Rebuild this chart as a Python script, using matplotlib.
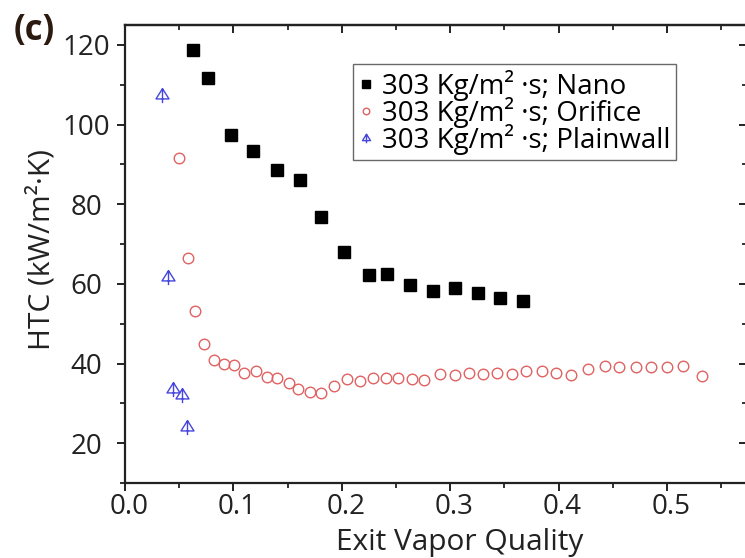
import matplotlib
matplotlib.use("Agg")
import matplotlib.pyplot as plt
import matplotlib.transforms as mtransforms
from matplotlib.path import Path
from matplotlib.ticker import MultipleLocator, NullFormatter

plt.rcParams['font.family'] = ['Open Sans', 'DejaVu Sans']

nano_x = [0.063, 0.077, 0.098, 0.118, 0.140, 0.161, 0.181, 0.202, 0.225, 0.242,
          0.263, 0.284, 0.304, 0.326, 0.346, 0.367]
nano_y = [118.6, 111.7, 97.4, 93.4, 88.5, 86.0, 76.8, 67.9, 62.2, 62.4,
          59.6, 58.1, 58.9, 57.8, 56.5, 55.6]

orifice_x = [0.050, 0.058, 0.065, 0.073, 0.082, 0.091, 0.101, 0.110, 0.121, 0.131,
             0.140, 0.151, 0.160, 0.171, 0.181, 0.193, 0.205, 0.217, 0.229, 0.241,
             0.252, 0.265, 0.276, 0.291, 0.304, 0.317, 0.330, 0.343, 0.357, 0.370,
             0.385, 0.398, 0.411, 0.427, 0.443, 0.456, 0.471, 0.485, 0.500, 0.515,
             0.532]
orifice_y = [91.5, 66.6, 53.1, 45.0, 40.8, 39.8, 39.6, 37.5, 38.2, 36.7,
             36.4, 35.1, 33.7, 32.9, 32.7, 34.4, 36.1, 35.5, 36.4, 36.4,
             36.4, 36.1, 35.9, 37.4, 37.1, 37.7, 37.4, 37.5, 37.4, 38.0,
             38.2, 37.6, 37.1, 38.7, 39.3, 39.1, 39.2, 39.2, 39.1, 39.5,
             36.8]

plain_x = [0.034, 0.040, 0.0445, 0.053, 0.057]
plain_y = [107.5, 61.6, 33.7, 32.1, 24.0]

labels = ["303 Kg/m² ·s; Nano", "303 Kg/m² ·s; Orifice", "303 Kg/m² ·s; Plainwall"]
xticks = [0.0, 0.1, 0.2, 0.3, 0.4, 0.5]
xticklabels = ["0.0", "0.1", "0.2", "0.3", "0.4", "0.5"]
yticks = [20, 40, 60, 80, 100, 120]

# custom "arrow triangle" marker: open triangle with vertical stem
verts = [(-0.85, -0.45), (0.85, -0.45), (0.0, 0.9), (-0.85, -0.45),
         (0.0, 0.9), (0.0, -1.0)]
codes = [Path.MOVETO, Path.LINETO, Path.LINETO, Path.CLOSEPOLY,
         Path.MOVETO, Path.LINETO]
arrow_tri = Path(verts, codes)

fig = plt.figure(figsize=(7.45, 5.58), dpi=100)
W, H = 745, 558
ax = fig.add_axes([125 / W, 1 - 483 / H, (747 - 125) / W, (483 - 25) / H])

ax.plot(nano_x, nano_y, ls='none', marker='s', ms=8.3, mfc='black', mec='black',
        label=labels[0])
ax.plot(orifice_x, orifice_y, ls='none', marker='o', ms=7.6, mfc='none',
        mec='#e06262', mew=1.0, label=labels[1])
ax.plot(plain_x, plain_y, ls='none', marker=arrow_tri, ms=11, mfc='none',
        mec='#4646dc', mew=1.0, label=labels[2])

xmax = (747 - 125) / 1084
ax.set_xlim(0, xmax)
ax.set_ylim(10, 125)
ax.set_xticks(xticks)
ax.set_xticklabels(xticklabels)
ax.xaxis.set_minor_locator(MultipleLocator(0.05))
ax.set_yticks(yticks)
ax.set_yticklabels([str(v) for v in yticks])
ax.yaxis.set_minor_locator(MultipleLocator(10))

tc = '#222222'
ax.tick_params(axis='both', which='major', direction='out', length=6, width=1.4,
               labelsize=20, colors=tc)
ax.tick_params(axis='both', which='minor', direction='out', length=3.6, width=1.3,
               colors=tc)
ax.tick_params(axis='x', which='major', pad=1.5)
ax.tick_params(axis='y', which='major', pad=22)
for lab in ax.get_yticklabels():
    lab.set_horizontalalignment('center')
offset = mtransforms.ScaledTranslation(4 / 100, 0, fig.dpi_scale_trans)
for lab in ax.get_xticklabels():
    lab.set_transform(lab.get_transform() + offset)

# inward ticks on top and right
secx = ax.secondary_xaxis('top')
secx.set_xticks(xticks)
secx.xaxis.set_minor_locator(MultipleLocator(0.05))
secx.xaxis.set_major_formatter(NullFormatter())
secx.tick_params(which='major', direction='in', length=6, width=1.4, colors=tc)
secx.tick_params(which='minor', direction='in', length=3.6, width=1.3, colors=tc)
secy = ax.secondary_yaxis('right')
secy.set_yticks(yticks)
secy.yaxis.set_minor_locator(MultipleLocator(10))
secy.yaxis.set_major_formatter(NullFormatter())
secy.tick_params(which='major', direction='in', length=6, width=1.4, colors=tc)
secy.tick_params(which='minor', direction='in', length=3.6, width=1.3, colors=tc)
for a in (ax, secx, secy):
    for s in a.spines.values():
        s.set_linewidth(1.6)
        s.set_color(tc)

ax.set_xlabel("Exit Vapor Quality", fontsize=21.5, color=tc)
ax.set_ylabel("HTC (kW/m²·K)", fontsize=21.5, color=tc)
ax.xaxis.set_label_coords((460 - 125) / 622, -0.098)
ax.yaxis.set_label_coords((57 - 125) / 622, (483 - 249) / 458)

leg = ax.legend(loc='upper left', bbox_to_anchor=((353 - 125) / 622, (483 - 64) / 458),
                fontsize=20, frameon=True, fancybox=False, edgecolor='#444444',
                handlelength=0.5, handletextpad=0.35, labelspacing=-0.14,
                borderpad=0.2, borderaxespad=0, markerscale=0.62)
leg.get_frame().set_linewidth(1.0)

fig.text(14 / W, 1 - 31 / H, "(c)", fontsize=25, fontweight='bold',
         color='#2a1a10', va='center', ha='left')

fig.savefig("out.png", dpi=100)
